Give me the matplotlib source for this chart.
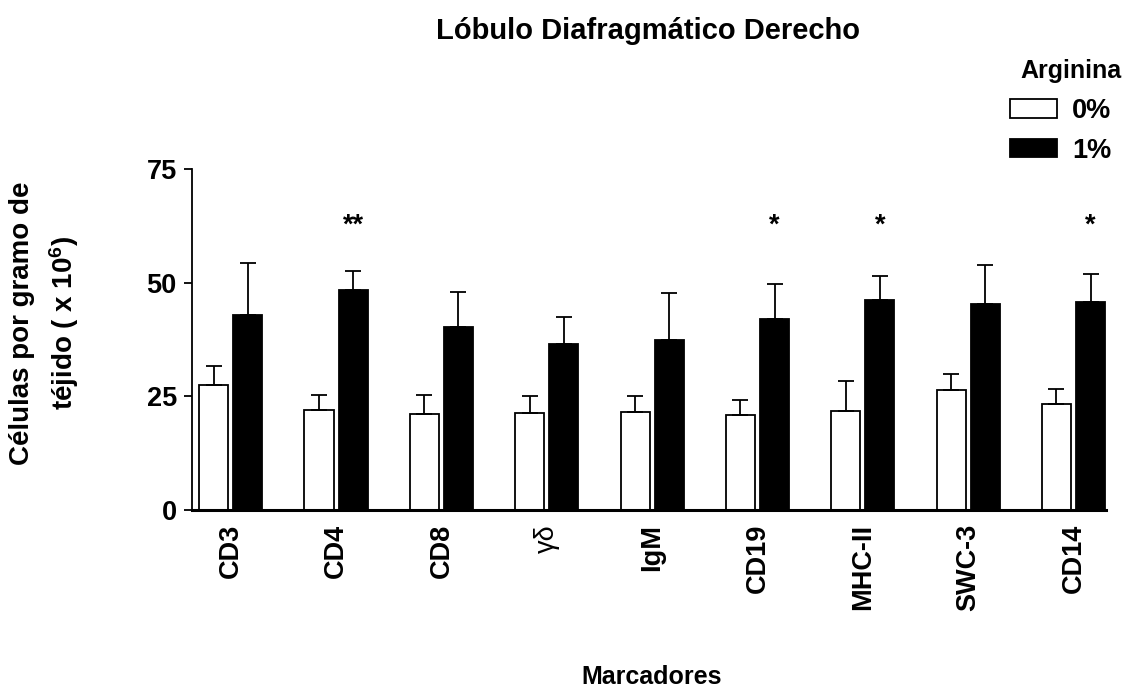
import numpy as np
import matplotlib
matplotlib.use('Agg')
import matplotlib.pyplot as plt
from matplotlib.patches import Patch

plt.rcParams['font.family'] = ['Liberation Sans', 'DejaVu Sans']
plt.rcParams['font.weight'] = 'bold'
plt.rcParams['mathtext.fontset'] = 'custom'
plt.rcParams['mathtext.bf'] = 'Liberation Sans:bold'
plt.rcParams['mathtext.rm'] = 'Liberation Sans:bold'
plt.rcParams['mathtext.default'] = 'bf'

# marcadores y medias (x 10^6 celulas por gramo) con su error
marcadores = ['CD3', 'CD4', 'CD8', 'γδ', 'IgM', 'CD19', 'MHC-II', 'SWC-3', 'CD14']
arg0 = [27.6, 22.0, 21.1, 21.4, 21.6, 20.9, 21.8, 26.5, 23.4]
arg0_err = [4.0, 3.3, 4.1, 3.7, 3.5, 3.4, 6.6, 3.4, 3.2]
arg1 = [42.9, 48.4, 40.3, 36.6, 37.4, 42.1, 46.2, 45.2, 45.8]
arg1_err = [11.5, 4.2, 7.7, 5.9, 10.4, 7.5, 5.2, 8.6, 6.0]
signif = ['', '**', '', '', '', '*', '*', '', '*']
sig_y = 62.6

fs = 19.5
w = 0.276
off = 0.162
x = np.arange(len(marcadores))

fig = plt.figure(figsize=(11.25, 6.88), dpi=100)
ax = fig.add_axes([0.1707, 0.2587, 0.8126, 0.4957])

ekw = dict(elinewidth=1.3, capthick=1.3, ecolor='black')
ax.bar(x - off, arg0, w, color='white', edgecolor='black', linewidth=1.3,
       yerr=[np.zeros(len(x)), arg0_err], capsize=5.8, error_kw=ekw, zorder=2)
ax.bar(x + off, arg1, w, color='black', edgecolor='black', linewidth=1.3,
       yerr=[np.zeros(len(x)), arg1_err], capsize=5.8, error_kw=ekw, zorder=2)

for i, s in enumerate(signif):
    if s:
        ax.text(x[i] + off, sig_y, s, ha='center', va='center', fontsize=fs,
                fontweight='bold')

ax.set_xlim(-0.367, 8.31)
ax.set_ylim(0, 75)
ax.set_yticks([0, 25, 50, 75])
ax.set_xticks(x)
ax.set_xticklabels(marcadores, rotation=90, va='top', ha='center')
for lab in ax.get_xticklabels():
    if lab.get_text() == 'γδ':
        lab.set_fontweight('normal')
ax.tick_params(axis='y', direction='out', length=6, width=1.3, pad=5, labelsize=fs)
ax.tick_params(axis='x', length=0, pad=10, labelsize=fs)
for s in ['top', 'right']:
    ax.spines[s].set_visible(False)
ax.spines['left'].set_linewidth(1.3)
ax.spines['bottom'].set_linewidth(2.2)

fig.text(0.576, 1 - 31 / 688, 'Lóbulo Diafragmático Derecho', ha='center',
         va='center', fontsize=21, fontweight='bold')
fig.text(0.579, 1 - 677 / 688, 'Marcadores', ha='center', va='center',
         fontsize=18, fontweight='bold')
fig.text(45 / 1125, 1 - 323 / 688,
         'Células por gramo de\ntéjido ( x 10$^{6}$)', rotation=90,
         ha='center', va='center', multialignment='center', fontsize=20,
         fontweight='bold', linespacing=1.45)

fig.text(1071 / 1125, 1 - 71 / 688, 'Arginina', ha='center', va='center',
         fontsize=18, fontweight='bold')
handles = [Patch(facecolor='white', edgecolor='black', linewidth=1.3, label='0%'),
           Patch(facecolor='black', edgecolor='black', linewidth=1.3, label='1%')]
fig.legend(handles=handles, loc='upper left', bbox_to_anchor=(1002 / 1125, 1 - 90 / 688),
           frameon=False, handlelength=1.74, handleheight=0.68,
           handletextpad=0.55, labelspacing=0.5, borderaxespad=0, borderpad=0.3,
           prop={'weight': 'bold', 'size': fs})

fig.savefig('out.png', dpi=100)
